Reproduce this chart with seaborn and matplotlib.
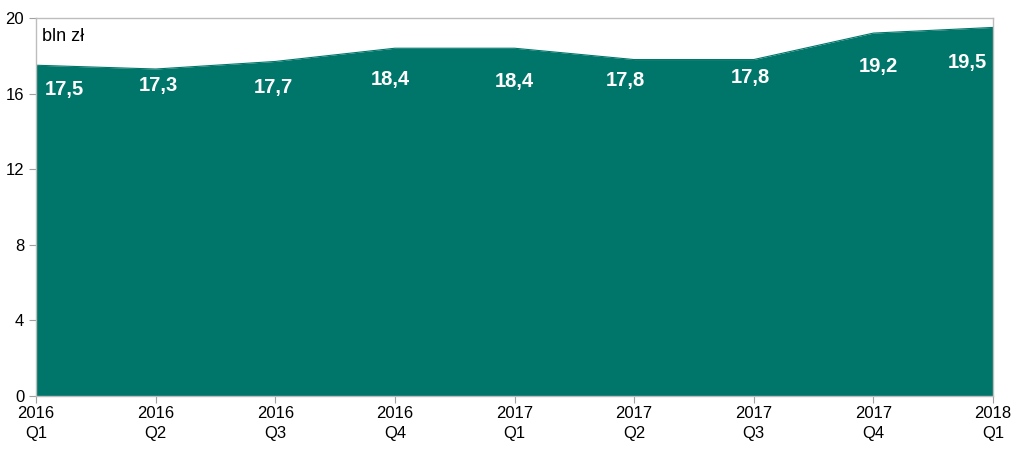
import matplotlib
matplotlib.use("Agg")
import matplotlib.pyplot as plt
import seaborn as sns
import pandas as pd

quarters = ["2016\nQ1", "2016\nQ2", "2016\nQ3", "2016\nQ4", "2017\nQ1",
            "2017\nQ2", "2017\nQ3", "2017\nQ4", "2018\nQ1"]
values = [17.5, 17.3, 17.7, 18.4, 18.4, 17.8, 17.8, 19.2, 19.5]
labels = ["17,5", "17,3", "17,7", "18,4", "18,4", "17,8", "17,8", "19,2", "19,5"]
label_dy = [1.31, 0.86, 1.40, 1.65, 1.75, 1.13, 0.97, 1.79, 1.88]
label_dx = [0.24, 0.02, -0.02, -0.04, 0.0, -0.07, -0.03, 0.04, -0.21]

sns.set_theme(style="white")
plt.rcParams['font.family'] = ['Liberation Sans', 'DejaVu Sans']

df = pd.DataFrame({"q": range(len(quarters)), "v": values})

fig = plt.figure(figsize=(10.24, 4.61), dpi=100)
ax = fig.add_axes([0.0352, 0.141, 0.9345, 0.820])
color = "#00766a"
sns.lineplot(data=df, x="q", y="v", ax=ax, color=color, linewidth=0.8)
ax.fill_between(df["q"], 0, df["v"], color=color, linewidth=0)

for i, (v, lab, dy, dx) in enumerate(zip(values, labels, label_dy, label_dx)):
    ax.text(i + dx, v - dy, lab, color="white", fontsize=14.5, fontweight="bold",
            ha="center", va="center")

ax.text(0.05, 19.0, "bln zł", fontsize=13, color="black", ha="left", va="center")

ax.set_xlim(0, len(quarters) - 1)
ax.set_ylim(0, 20)
ax.set_yticks([0, 4, 8, 12, 16, 20])
ax.set_xticks(range(len(quarters)))
ax.set_xticklabels(quarters, linespacing=1.4)
ax.set_xlabel("")
ax.set_ylabel("")
ax.tick_params(axis="both", labelsize=12, labelcolor="black", length=5,
               direction="out", width=0.8, bottom=True, left=True, color="#a0a0a0")
ax.tick_params(axis="x", pad=2)
for s in ax.spines.values():
    s.set_color("#bdbdbd")
    s.set_linewidth(1.0)

fig.savefig("out.png", dpi=100)
